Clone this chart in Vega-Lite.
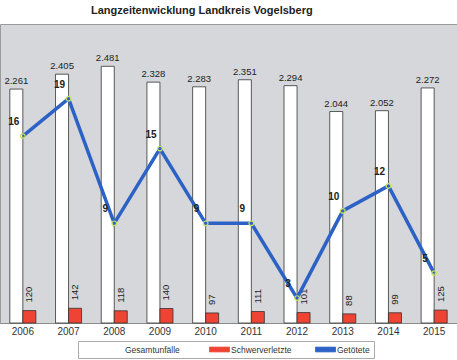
{
  "$schema": "https://vega.github.io/schema/vega-lite/v6.json",
  "width": 457,
  "height": 299,
  "autosize": {"type": "none"},
  "padding": {"left": 0, "right": 0, "top": 24, "bottom": 37},
  "background": "white",
  "title": {
    "text": "Langzeitenwicklung Landkreis Vogelsberg",
    "anchor": "start",
    "dx": 91,
    "offset": 8,
    "fontSize": 11,
    "fontWeight": "bold",
    "font": "Liberation Sans",
    "color": "#222222"
  },
  "data": {
    "values": [
      {"year": "2006", "series": "Gesamtunfälle", "value": 2261},
      {"year": "2007", "series": "Gesamtunfälle", "value": 2405},
      {"year": "2008", "series": "Gesamtunfälle", "value": 2481},
      {"year": "2009", "series": "Gesamtunfälle", "value": 2328},
      {"year": "2010", "series": "Gesamtunfälle", "value": 2283},
      {"year": "2011", "series": "Gesamtunfälle", "value": 2351},
      {"year": "2012", "series": "Gesamtunfälle", "value": 2294},
      {"year": "2013", "series": "Gesamtunfälle", "value": 2044},
      {"year": "2014", "series": "Gesamtunfälle", "value": 2052},
      {"year": "2015", "series": "Gesamtunfälle", "value": 2272},
      {"year": "2006", "series": "Schwerverletzte", "value": 120},
      {"year": "2007", "series": "Schwerverletzte", "value": 142},
      {"year": "2008", "series": "Schwerverletzte", "value": 118},
      {"year": "2009", "series": "Schwerverletzte", "value": 140},
      {"year": "2010", "series": "Schwerverletzte", "value": 97},
      {"year": "2011", "series": "Schwerverletzte", "value": 111},
      {"year": "2012", "series": "Schwerverletzte", "value": 101},
      {"year": "2013", "series": "Schwerverletzte", "value": 88},
      {"year": "2014", "series": "Schwerverletzte", "value": 99},
      {"year": "2015", "series": "Schwerverletzte", "value": 125},
      {"year": "2006", "series": "Getötete", "value": 16},
      {"year": "2007", "series": "Getötete", "value": 19},
      {"year": "2008", "series": "Getötete", "value": 9},
      {"year": "2009", "series": "Getötete", "value": 15},
      {"year": "2010", "series": "Getötete", "value": 9},
      {"year": "2011", "series": "Getötete", "value": 9},
      {"year": "2012", "series": "Getötete", "value": 3},
      {"year": "2013", "series": "Getötete", "value": 10},
      {"year": "2014", "series": "Getötete", "value": 12},
      {"year": "2015", "series": "Getötete", "value": 5}
    ]
  },
  "encoding": {
    "x": {
      "field": "year",
      "type": "nominal",
      "scale": {"paddingInner": 0.43, "paddingOuter": 0.215},
      "axis": {
        "title": null,
        "labelAngle": 0,
        "ticks": false,
        "domainColor": "#8a8a8a",
        "labelFontSize": 10,
        "labelColor": "#333333",
        "labelFont": "Liberation Sans",
        "labelPadding": 3
      }
    }
  },
  "layer": [
    {
      "transform": [{"filter": "datum.series !== 'Getötete'"}],
      "mark": {"type": "bar", "stroke": "#333333", "strokeWidth": 0.8},
      "encoding": {
        "xOffset": {"field": "series", "type": "nominal", "scale": {"domain": ["Gesamtunfälle", "Schwerverletzte"], "paddingInner": 0, "paddingOuter": 0}},
        "y": {"field": "value", "type": "quantitative", "scale": {"domain": [0, 2890], "nice": false}, "axis": null},
        "color": {
          "field": "series",
          "type": "nominal",
          "scale": {"domain": ["Gesamtunfälle", "Schwerverletzte", "Getötete"], "range": ["#ffffff", "#ef4433", "#2c62c6"]},
          "legend": {
            "title": " ",
            "titleOrient": "left",
            "titleFontSize": 8,
            "titlePadding": 27,
            "orient": "none",
            "legendX": 78,
            "legendY": 317,
            "direction": "horizontal",
            "gridAlign": "all",
            "columnPadding": 21,
            "padding": 4,
            "fillColor": "#ffffff",
            "strokeColor": "#aaaaaa",
            "symbolType": "M-2.5,-0.6H2.5V0.6H-2.5Z",
            "symbolSize": 64,
            "symbolStrokeColor": "#333333",
            "symbolStrokeWidth": 0.8,
            "labelFontSize": 8.5,
            "labelFont": "Liberation Sans",
            "labelColor": "#333333",
            "labelOffset": 7
          }
        }
      }
    },
    {
      "transform": [{"filter": "datum.series === 'Gesamtunfälle'"}],
      "mark": {"type": "text", "dy": -5, "baseline": "alphabetic", "fontSize": 9.5, "font": "Liberation Sans", "color": "#222222"},
      "encoding": {
        "xOffset": {"field": "series", "type": "nominal", "scale": {"domain": ["Gesamtunfälle", "Schwerverletzte"], "paddingInner": 0, "paddingOuter": 0}},
        "y": {"field": "value", "type": "quantitative", "scale": {"domain": [0, 2890], "nice": false}, "axis": null},
        "text": {"field": "value", "type": "quantitative", "format": ",d"}
      }
    },
    {
      "transform": [{"filter": "datum.series === 'Schwerverletzte'"}],
      "mark": {"type": "text", "angle": 270, "align": "left", "baseline": "middle", "dx": 8, "fontSize": 9.5, "font": "Liberation Sans", "color": "#222222"},
      "encoding": {
        "xOffset": {"field": "series", "type": "nominal", "scale": {"domain": ["Gesamtunfälle", "Schwerverletzte"], "paddingInner": 0, "paddingOuter": 0}},
        "y": {"field": "value", "type": "quantitative", "scale": {"domain": [0, 2890], "nice": false}, "axis": null},
        "text": {"field": "value", "type": "quantitative", "format": ",d"}
      }
    },
    {
      "transform": [{"filter": "datum.series === 'Getötete'"}],
      "layer": [
        {
          "mark": {"type": "line", "strokeWidth": 3.5, "strokeJoin": "miter"},
          "encoding": {
            "y": {"field": "value", "type": "quantitative", "scale": {"domain": [1, 25], "nice": false}, "axis": null},
            "color": {"field": "series", "type": "nominal"}
          }
        },
        {
          "mark": {"type": "point", "filled": false, "size": 22, "stroke": "#c8e060", "strokeWidth": 1.2, "opacity": 1},
          "encoding": {
            "y": {"field": "value", "type": "quantitative", "scale": {"domain": [1, 25], "nice": false}, "axis": null}
          }
        },
        {
          "mark": {"type": "text", "dx": -9, "dy": -14, "fontSize": 10, "fontWeight": "bold", "font": "Liberation Sans", "color": "#222222"},
          "encoding": {
            "y": {"field": "value", "type": "quantitative", "scale": {"domain": [1, 25], "nice": false}, "axis": null},
            "text": {"field": "value", "type": "quantitative"}
          }
        }
      ]
    }
  ],
  "resolve": {"scale": {"y": "independent"}},
  "config": {
    "locale": {"number": {"decimal": ",", "thousands": ".", "grouping": [3], "currency": ["", " €"]}},
    "view": {"fill": "#d5d7da", "stroke": "#9a9a9a", "strokeWidth": 1},
    "axis": {"grid": false}
  }
}
